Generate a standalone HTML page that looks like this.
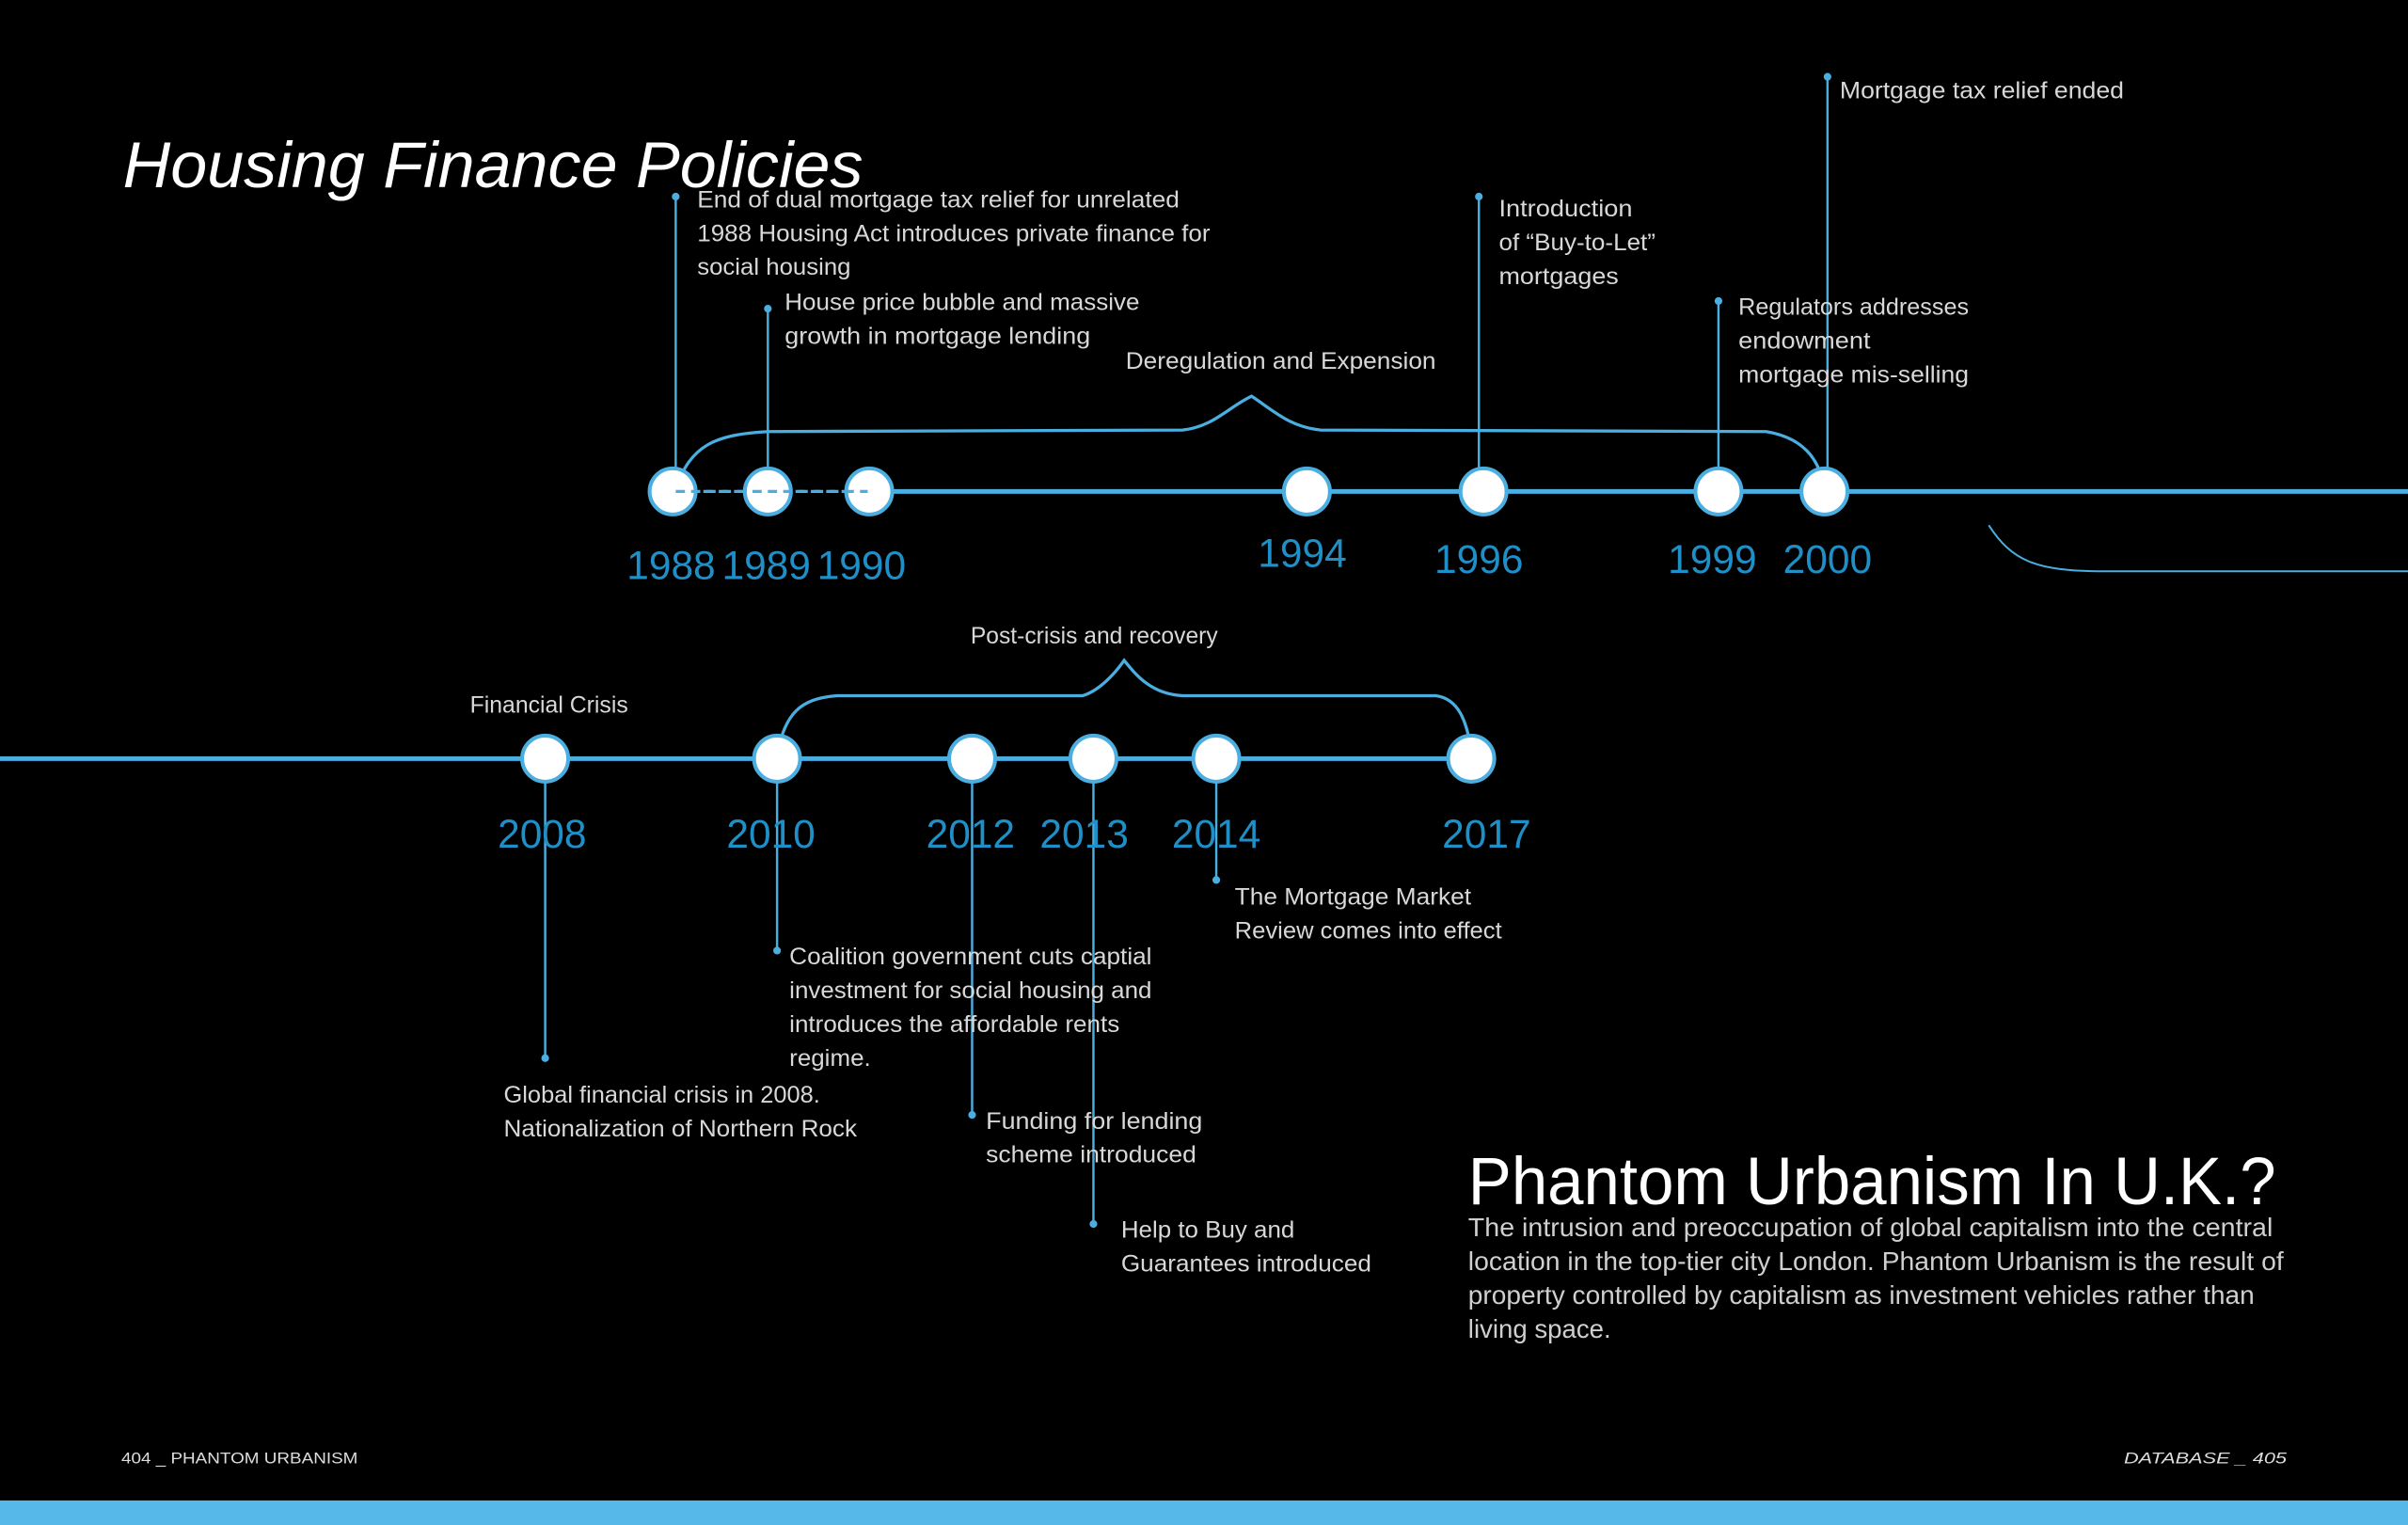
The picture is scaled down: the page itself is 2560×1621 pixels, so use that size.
<!DOCTYPE html>
<html><head><meta charset="utf-8"><style>
html,body{margin:0;padding:0;background:#000;}
svg{display:block;}
text{font-family:"Liberation Sans",sans-serif;}
.t{fill:#d8d8d8;font-size:15.5px;}
.y{fill:#1f8fc8;font-size:26px;text-anchor:middle;}
.y2{fill:#1f8fc8;font-size:26px;text-anchor:middle;}
</style></head><body>
<svg width="2560" height="1621" viewBox="0 0 1568 993" preserveAspectRatio="none" xmlns="http://www.w3.org/2000/svg">
<rect width="1568" height="993" fill="#000"/>
<rect x="0" y="977" width="1568" height="16" fill="#55b8e8"/>
<text x="80" y="122" fill="#fff" font-size="42" font-style="italic" textLength="482" lengthAdjust="spacingAndGlyphs">Housing Finance Policies</text>

<g stroke="#4aaee0" fill="none">
<!-- top timeline -->
<line x1="565" y1="320" x2="1568" y2="320" stroke-width="3"/>
<line x1="438" y1="320" x2="565" y2="320" stroke-width="2" stroke-dasharray="6,4"/>
<path d="M440 318 C450 290 465 283 500 281 L770 280 C790 278 800 265 815 258 C830 268 840 278 860 280 L1150 281 C1175 285 1183 300 1186 310" stroke-width="2"/>
<path d="M1295 342 C1310 365 1325 372 1370 372 L1568 372" stroke-width="1.2"/>
<line x1="440" y1="128" x2="440" y2="305" stroke-width="1.5"/>
<line x1="500" y1="201" x2="500" y2="305" stroke-width="1.5"/>
<line x1="963" y1="128" x2="963" y2="305" stroke-width="1.5"/>
<line x1="1119" y1="196" x2="1119" y2="305" stroke-width="1.5"/>
<line x1="1190" y1="50" x2="1190" y2="305" stroke-width="1.5"/>
<!-- bottom timeline -->
<line x1="0" y1="494" x2="958" y2="494" stroke-width="3"/>
<path d="M506 490 C512 465 520 455 545 453 L705 453 C715 450 725 440 732 430 C740 440 750 452 770 453 L935 453 C950 455 955 470 958 488" stroke-width="2"/>
<line x1="355" y1="500" x2="355" y2="689" stroke-width="1.5"/>
<line x1="506" y1="500" x2="506" y2="619" stroke-width="1.5"/>
<line x1="633" y1="505" x2="633" y2="726" stroke-width="1.5"/>
<line x1="712" y1="505" x2="712" y2="797" stroke-width="1.5"/>
<line x1="792" y1="505" x2="792" y2="573" stroke-width="1.5"/>
</g>
<g fill="#fff" stroke="#4aaee0" stroke-width="2.5">
<circle cx="438" cy="320" r="15"/><circle cx="500" cy="320" r="15"/><circle cx="566" cy="320" r="15"/>
<circle cx="851" cy="320" r="15"/><circle cx="966" cy="320" r="15"/><circle cx="1119" cy="320" r="15"/><circle cx="1188" cy="320" r="15"/>
<circle cx="355" cy="494" r="15"/><circle cx="506" cy="494" r="15"/><circle cx="633" cy="494" r="15"/><circle cx="712" cy="494" r="15"/><circle cx="792" cy="494" r="15"/><circle cx="958" cy="494" r="15"/>
</g>
<line x1="440" y1="320" x2="565" y2="320" stroke="#4aaee0" stroke-width="2" stroke-dasharray="6,4"/>
<g fill="#4aaee0">
<circle cx="440" cy="128" r="2.5"/><circle cx="500" cy="201" r="2.5"/><circle cx="963" cy="128" r="2.5"/><circle cx="1119" cy="196" r="2.5"/><circle cx="1190" cy="50" r="2.5"/>
<circle cx="355" cy="689" r="2.5"/><circle cx="506" cy="619" r="2.5"/><circle cx="633" cy="726" r="2.5"/><circle cx="712" cy="797" r="2.5"/><circle cx="792" cy="573" r="2.5"/>
</g>
<g class="y">
<text x="437" y="377">1988</text><text x="499" y="377">1989</text><text x="561" y="377">1990</text>
<text x="848" y="369">1994</text><text x="963" y="373">1996</text><text x="1115" y="373">1999</text><text x="1190" y="373">2000</text>
<text x="353" y="552">2008</text><text x="502" y="552">2010</text><text x="632" y="552">2012</text><text x="706" y="552">2013</text><text x="792" y="552">2014</text><text x="968" y="552">2017</text>
</g>
<g class="t">
<text x="454" y="135" textLength="314" lengthAdjust="spacingAndGlyphs">End of dual mortgage tax relief for unrelated</text>
<text x="454" y="157" textLength="334" lengthAdjust="spacingAndGlyphs">1988 Housing Act introduces private finance for</text>
<text x="454" y="179" textLength="100" lengthAdjust="spacingAndGlyphs">social housing</text>
<text x="511" y="202" textLength="231" lengthAdjust="spacingAndGlyphs">House price bubble and massive</text>
<text x="511" y="224" textLength="199" lengthAdjust="spacingAndGlyphs">growth in mortgage lending</text>
<text x="733" y="240" textLength="202" lengthAdjust="spacingAndGlyphs">Deregulation and Expension</text>
<text x="976" y="141" textLength="87" lengthAdjust="spacingAndGlyphs">Introduction</text>
<text x="976" y="163" textLength="102" lengthAdjust="spacingAndGlyphs">of “Buy-to-Let”</text>
<text x="976" y="185" textLength="78" lengthAdjust="spacingAndGlyphs">mortgages</text>
<text x="1132" y="205" textLength="150" lengthAdjust="spacingAndGlyphs">Regulators addresses</text>
<text x="1132" y="227" textLength="86" lengthAdjust="spacingAndGlyphs">endowment</text>
<text x="1132" y="249" textLength="150" lengthAdjust="spacingAndGlyphs">mortgage mis-selling</text>
<text x="1198" y="64" textLength="185" lengthAdjust="spacingAndGlyphs">Mortgage tax relief ended</text>
<text x="632" y="419" textLength="161" lengthAdjust="spacingAndGlyphs">Post-crisis and recovery</text>
<text x="306" y="464" textLength="103" lengthAdjust="spacingAndGlyphs">Financial Crisis</text>
<text x="328" y="718" textLength="206" lengthAdjust="spacingAndGlyphs">Global financial crisis in 2008.</text>
<text x="328" y="740" textLength="230" lengthAdjust="spacingAndGlyphs">Nationalization of Northern Rock</text>
<text x="514" y="628" textLength="236" lengthAdjust="spacingAndGlyphs">Coalition government cuts captial</text>
<text x="514" y="650" textLength="236" lengthAdjust="spacingAndGlyphs">investment for social housing and</text>
<text x="514" y="672" textLength="215" lengthAdjust="spacingAndGlyphs">introduces the affordable rents</text>
<text x="514" y="694" textLength="53" lengthAdjust="spacingAndGlyphs">regime.</text>
<text x="642" y="735" textLength="141" lengthAdjust="spacingAndGlyphs">Funding for lending</text>
<text x="642" y="757" textLength="137" lengthAdjust="spacingAndGlyphs">scheme introduced</text>
<text x="730" y="806" textLength="113" lengthAdjust="spacingAndGlyphs">Help to Buy and</text>
<text x="730" y="828" textLength="163" lengthAdjust="spacingAndGlyphs">Guarantees introduced</text>
<text x="804" y="589" textLength="154" lengthAdjust="spacingAndGlyphs">The Mortgage Market</text>
<text x="804" y="611" textLength="174" lengthAdjust="spacingAndGlyphs">Review comes into effect</text>
</g>
<text x="956" y="784" fill="#fff" font-size="44" textLength="526" lengthAdjust="spacingAndGlyphs">Phantom Urbanism In U.K.?</text>
<g fill="#cfcfcf" font-size="17">
<text x="956" y="805" textLength="524" lengthAdjust="spacingAndGlyphs">The intrusion and preoccupation of global capitalism into the central</text>
<text x="956" y="827" textLength="531" lengthAdjust="spacingAndGlyphs">location in the top-tier city London. Phantom Urbanism is the result of</text>
<text x="956" y="849" textLength="512" lengthAdjust="spacingAndGlyphs">property controlled by capitalism as investment vehicles rather than</text>
<text x="956" y="871" textLength="93" lengthAdjust="spacingAndGlyphs">living space.</text>
</g>
<g fill="#ddd" font-family="Liberation Mono" font-size="10">
<text x="79" y="953" textLength="154" lengthAdjust="spacingAndGlyphs">404 _ PHANTOM URBANISM</text>
<text x="1383" y="953" font-style="italic" textLength="106" lengthAdjust="spacingAndGlyphs">DATABASE _ 405</text>
</g>
</svg>
</body></html>
